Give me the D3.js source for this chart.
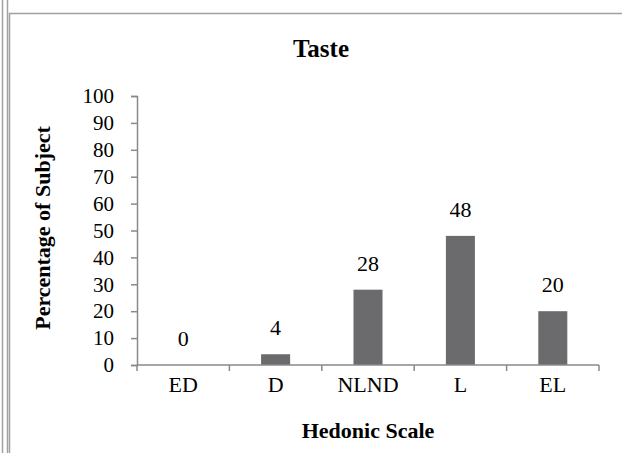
<!DOCTYPE html>
<html>
<head>
<meta charset="utf-8">
<script src="https://cdn.jsdelivr.net/npm/d3@7"></script>
<style>
  html, body { margin: 0; padding: 0; background: #fff; }
  svg { display: block; }
  svg text { font-family: "Liberation Serif", "Times New Roman", serif; fill: #000; }
</style>
</head>
<body>
<script>
// Hedonic scale responses for taste
const categories = ["ED", "D", "NLND", "L", "EL"];
const percentages = [0, 4, 28, 48, 20];
const yTicks = [0, 10, 20, 30, 40, 50, 60, 70, 80, 90, 100];
const chartTitle = "Taste";
const xTitle = "Hedonic Scale";
const yTitle = "Percentage of Subject";

const W = 622, H = 453;
const plot = { left: 137, right: 599, top: 96, bottom: 365 };
const axisColor = "#8a8a8a";

const svg = d3.select("body").append("svg")
  .attr("width", W).attr("height", H);

// page frame lines
const frame = svg.append("g").attr("fill", "none").attr("stroke", "#a0a0a0").attr("stroke-width", 1.5);
frame.append("line").attr("x1", 2.5).attr("x2", 2.5).attr("y1", 0).attr("y2", H);
frame.append("line").attr("x1", 7.5).attr("x2", 7.5).attr("y1", 0).attr("y2", H);
frame.append("path").attr("d", `M9.5,${H} V13.5 H${W}`);

const x = d3.scaleBand()
  .domain(categories)
  .range([plot.left, plot.right])
  .paddingInner(0.686)
  .paddingOuter(0.343);

const y = d3.scaleLinear().domain([0, 100]).range([plot.bottom, plot.top]);

// bars
svg.append("g").selectAll("rect")
  .data(percentages)
  .join("rect")
  .attr("x", (d, i) => x(categories[i]))
  .attr("width", x.bandwidth())
  .attr("y", d => y(d))
  .attr("height", d => y(0) - y(d))
  .attr("fill", "#6b6b6d");

// y axis
const yAxis = svg.append("g")
  .attr("transform", `translate(${plot.left},0)`)
  .call(d3.axisLeft(y).tickValues(yTicks).tickSize(6).tickPadding(17).tickFormat(d3.format("d")));
yAxis.select(".domain").attr("stroke", axisColor).attr("stroke-width", 1.5);
yAxis.selectAll(".tick line").attr("stroke", axisColor).attr("stroke-width", 1.5);
yAxis.selectAll(".tick text")
  .style("font-family", '"Liberation Serif", serif')
  .attr("font-size", 21).attr("fill", "#000");

// x axis line with ticks at category boundaries
const xAxisG = svg.append("g");
xAxisG.append("line")
  .attr("x1", plot.left).attr("x2", plot.right)
  .attr("y1", y(0)).attr("y2", y(0))
  .attr("stroke", axisColor).attr("stroke-width", 1.5);
const bounds = d3.range(categories.length + 1).map(i => plot.left + i * x.step());
xAxisG.selectAll("line.tk")
  .data(bounds)
  .join("line")
  .attr("class", "tk")
  .attr("x1", d => d).attr("x2", d => d)
  .attr("y1", y(0)).attr("y2", y(0) + 6)
  .attr("stroke", axisColor).attr("stroke-width", 1.5);

// category labels
svg.append("g").selectAll("text")
  .data(categories)
  .join("text")
  .attr("x", d => x(d) + x.bandwidth() / 2)
  .attr("y", 392)
  .attr("text-anchor", "middle")
  .attr("font-size", 22)
  .text(d => d);

// value labels above bars
svg.append("g").selectAll("text")
  .data(percentages)
  .join("text")
  .attr("x", (d, i) => x(categories[i]) + x.bandwidth() / 2)
  .attr("y", d => y(d) - 19)
  .attr("text-anchor", "middle")
  .attr("font-size", 22)
  .text(d => d);

// titles
svg.append("text")
  .attr("x", 321).attr("y", 57)
  .attr("text-anchor", "middle")
  .attr("font-size", 25).attr("font-weight", "bold")
  .text(chartTitle);

svg.append("text")
  .attr("x", (plot.left + plot.right) / 2).attr("y", 438)
  .attr("text-anchor", "middle")
  .attr("font-size", 22).attr("font-weight", "bold")
  .text(xTitle);

svg.append("text")
  .attr("transform", "translate(50,228) rotate(-90)")
  .attr("text-anchor", "middle")
  .attr("font-size", 22).attr("font-weight", "bold")
  .text(yTitle);
</script>
</body>
</html>
